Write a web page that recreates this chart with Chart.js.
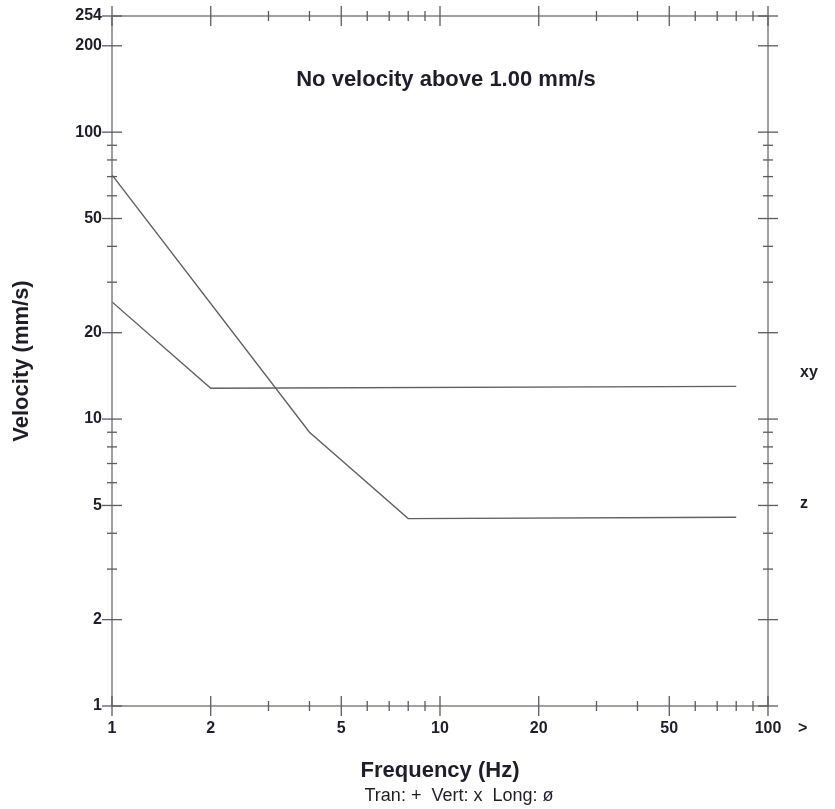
<!DOCTYPE html>
<html>
<head>
<meta charset="utf-8">
<script src="https://cdn.jsdelivr.net/npm/chart.js@4.4.1/dist/chart.umd.min.js"></script>
<style>
html, body { margin: 0; padding: 0; background: #fff; }
</style>
</head>
<body>
<canvas id="myChart" width="835" height="809"></canvas>
<script>
// data
const xyFreq = [1, 2, 80];
const xyVel = [25.6, 12.8, 13.0];
const zFreq = [1, 4, 8, 80];
const zVel = [71, 9.0, 4.5, 4.55];
const seriesNames = ['xy', 'z'];

const xTickLabels = [1, 2, 5, 10, 20, 50, 100];
const yTickLabels = [1, 2, 5, 10, 20, 50, 100, 200, 254];
const minorTicks = [3, 4, 6, 7, 8, 9, 30, 40, 60, 70, 80, 90];

const noteText = 'No velocity above 1.00 mm/s';
const legendText = 'Tran: +  Vert: x  Long: ø';

const textColor = '#1e1e2a';
const fontFamily = '"Liberation Sans", Arial, sans-serif';

function points(xs, ys) {
	return xs.map((x, i) => ({x: x, y: ys[i]}));
}

const framePlugin = {
	id: 'frame',
	afterDraw(chart) {
		const ctx = chart.ctx;
		const a = chart.chartArea;
		const xs = chart.scales.x;
		const ys = chart.scales.y;

		ctx.save();
		// box
		ctx.strokeStyle = '#80808a';
		ctx.lineWidth = 1.5;
		ctx.strokeRect(a.left, a.top, a.right - a.left, a.bottom - a.top);

		// crossing tick marks on all four sides
		ctx.strokeStyle = '#5a5a62';
		ctx.lineWidth = 1.3;
		const tick = (x1, y1, x2, y2) => {
			ctx.beginPath();
			ctx.moveTo(x1, y1);
			ctx.lineTo(x2, y2);
			ctx.stroke();
		};
		xTickLabels.concat(minorTicks).forEach(v => {
			if (v < xs.min || v > xs.max) return;
			const len = xTickLabels.includes(v) ? 10 : 5;
			const px = xs.getPixelForValue(v);
			tick(px, a.bottom - len, px, a.bottom + len);
			tick(px, a.top - len, px, a.top + len);
		});
		yTickLabels.concat(minorTicks).forEach(v => {
			if (v < ys.min || v > ys.max) return;
			const len = yTickLabels.includes(v) ? 10 : 5;
			const py = ys.getPixelForValue(v);
			tick(a.left - len, py, a.left + len, py);
			tick(a.right - len, py, a.right + len, py);
		});

		ctx.fillStyle = textColor;
		ctx.textAlign = 'center';
		ctx.textBaseline = 'middle';

		ctx.font = 'bold 22px ' + fontFamily;
		ctx.fillText(noteText, 446, 80);

		ctx.font = '18px ' + fontFamily;
		ctx.fillText(legendText, 459, 796);

		ctx.font = 'bold 16px ' + fontFamily;
		ctx.textAlign = 'left';
		ctx.fillText('>', a.right + 30, a.bottom + 23);

		// series names at the right of the frame
		const lastVals = [xyVel[xyVel.length - 1], zVel[zVel.length - 1]];
		seriesNames.forEach((name, i) => {
			ctx.fillText(name, a.right + 32, ys.getPixelForValue(lastVals[i]) - 14);
		});
		ctx.restore();
	}
};

new Chart(document.getElementById('myChart').getContext('2d'), {
	type: 'line',
	data: {
		datasets: [{
			label: seriesNames[0],
			data: points(xyFreq, xyVel),
			borderColor: '#606060',
			borderWidth: 1.4,
			pointRadius: 0,
			fill: false,
			tension: 0
		}, {
			label: seriesNames[1],
			data: points(zFreq, zVel),
			borderColor: '#606060',
			borderWidth: 1.4,
			pointRadius: 0,
			fill: false,
			tension: 0
		}]
	},
	options: {
		responsive: false,
		animation: false,
		layout: {
			padding: {top: 16, right: 67, left: 0, bottom: 0}
		},
		plugins: {
			legend: {display: false},
			tooltip: {enabled: false}
		},
		scales: {
			x: {
				type: 'logarithmic',
				min: 1,
				max: 100,
				afterBuildTicks: s => { s.ticks = xTickLabels.map(v => ({value: v})); },
				afterFit: s => { s.height = 103; },
				grid: {display: false, drawTicks: false},
				border: {display: false},
				ticks: {
					autoSkip: false,
					maxRotation: 0,
					padding: 13,
					color: textColor,
					font: {family: fontFamily, size: 16, weight: 'bold'},
					callback: v => String(v)
				},
				title: {
					display: true,
					text: 'Frequency (Hz)',
					color: textColor,
					font: {family: fontFamily, size: 22, weight: 'bold'},
					padding: {top: 0, bottom: 25}
				}
			},
			y: {
				type: 'logarithmic',
				min: 1,
				max: 254,
				afterBuildTicks: s => { s.ticks = yTickLabels.map(v => ({value: v})); },
				afterFit: s => {
					s.width = 112;
					s.paddingTop = 6;
					s.paddingBottom = 6;
				},
				grid: {display: false, drawTicks: false},
				border: {display: false},
				ticks: {
					autoSkip: false,
					padding: 10,
					color: textColor,
					font: {family: fontFamily, size: 16, weight: 'bold'},
					callback: v => String(v)
				},
				title: {
					display: true,
					text: 'Velocity (mm/s)',
					color: textColor,
					font: {family: fontFamily, size: 22, weight: 'bold'},
					padding: {top: 9, bottom: 0}
				}
			}
		}
	},
	plugins: [framePlugin]
});
</script>
</body>
</html>
